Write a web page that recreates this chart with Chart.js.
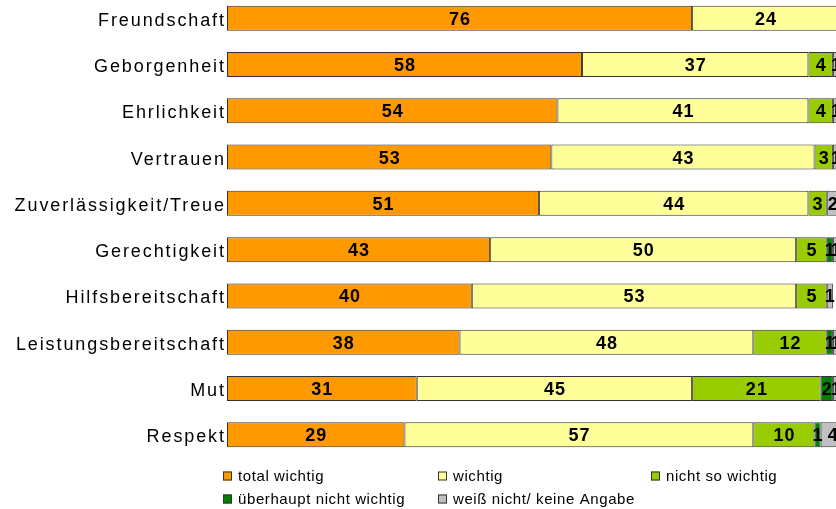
<!DOCTYPE html>
<html>
<head>
<meta charset="utf-8">
<script src="https://cdn.jsdelivr.net/npm/chart.js@4.4.1/dist/chart.umd.min.js"></script>
<style>
  html, body { margin: 0; padding: 0; background: #fff; overflow: hidden; width: 836px; height: 509px; }
  #wrap { position: absolute; left: 0; top: -5px; width: 842px; height: 516px; }
</style>
</head>
<body>
<div id="wrap"><canvas id="c" width="842" height="516"></canvas></div>
<script>
const categories = ["Freundschaft", "Geborgenheit", "Ehrlichkeit", "Vertrauen", "Zuverlässigkeit/Treue", "Gerechtigkeit", "Hilfsbereitschaft", "Leistungsbereitschaft", "Mut", "Respekt"];
const seriesNames = ["total wichtig", "wichtig", "nicht so wichtig", "überhaupt nicht wichtig", "weiß nicht/ keine Angabe"];
const totalWichtig = [76, 58, 54, 53, 51, 43, 40, 38, 31, 29];
const wichtig = [24, 37, 41, 43, 44, 50, 53, 48, 45, 57];
const nichtSoWichtig = [0, 4, 4, 3, 3, 5, 5, 12, 21, 10];
const ueberhauptNicht = [0, 0, 0, 0, 0, 1, 0, 1, 2, 1];
const weissNicht = [0, 1, 1, 1, 2, 1, 1, 1, 1, 4];
const colors = ["#FF9900", "#FFFF99", "#99CC00", "#008000", "#C0C0C0"];

const seriesValues = [totalWichtig, wichtig, nichtSoWichtig, ueberhauptNicht, weissNicht];

const FONT = "'Liberation Sans', Arial, sans-serif";

const labelsPlugin = {
  id: 'customText',
  afterDatasetsDraw(chart) {
    const ctx = chart.ctx;
    const ys = chart.scales.y;
    // y category labels
    ctx.save();
    ctx.font = "18px " + FONT;
    ctx.fillStyle = "#000";
    ctx.textBaseline = "middle";
    ctx.textAlign = "left";
    const ls = 1.9;
    ctx.letterSpacing = ls + "px";
    categories.forEach((c, i) => {
      const y = ys.getPixelForValue(i);
      const w = ctx.measureText(c).width - ls;
      ctx.fillText(c, 224 - w, y + 2.5);
    });
    ctx.restore();
    // data labels
    ctx.save();
    ctx.font = "bold 18px " + FONT;
    ctx.fillStyle = "#000";
    ctx.textBaseline = "middle";
    ctx.textAlign = "left";
    const ds2 = 1;
    ctx.letterSpacing = ds2 + "px";
    chart.data.datasets.forEach((ds, di) => {
      const meta = chart.getDatasetMeta(di);
      meta.data.forEach((bar, i) => {
        const v = ds.data[i];
        if (!v) return;
        const s = String(v);
        const w = ctx.measureText(s).width - ds2;
        const cx = (bar.x + bar.base) / 2;
        ctx.fillText(s, cx - w / 2, bar.y + 1.5);
      });
    });
    ctx.restore();
    // legend
    ctx.save();
    ctx.font = "15px " + FONT;
    ctx.textBaseline = "middle";
    ctx.textAlign = "left";
    ctx.letterSpacing = "0.6px";
    const pos = [[223, 481], [438, 481], [651, 481], [223, 504], [438, 504]];
    chart.data.datasets.forEach((ds, di) => {
      const [x, y] = pos[di];
      ctx.fillStyle = ds.backgroundColor;
      ctx.fillRect(x, y - 4.5, 9, 9);
      ctx.strokeStyle = "#333";
      ctx.lineWidth = 1;
      ctx.strokeRect(x + 0.5, y - 4, 8, 8);
      ctx.fillStyle = "#000";
      ctx.fillText(ds.label, x + 15, y + 1);
    });
    ctx.restore();
  }
};

new Chart(document.getElementById('c'), {
  type: 'bar',
  data: {
    labels: categories,
    datasets: seriesNames.map((n, i) => ({
      label: n,
      data: seriesValues[i],
      backgroundColor: colors[i],
      borderColor: "#333333",
      borderWidth: 1,
      borderSkipped: false,
      barPercentage: 0.54,
      categoryPercentage: 1.0
    }))
  },
  options: {
    indexAxis: 'y',
    responsive: false,
    animation: false,
    layout: { padding: { left: 227, right: 3, top: 0, bottom: 53 } },
    plugins: { legend: { display: false }, tooltip: { enabled: false } },
    scales: {
      x: { stacked: true, min: 0, max: 100, display: false },
      y: { stacked: true, display: false }
    }
  },
  plugins: [labelsPlugin]
});
</script>
</body>
</html>
